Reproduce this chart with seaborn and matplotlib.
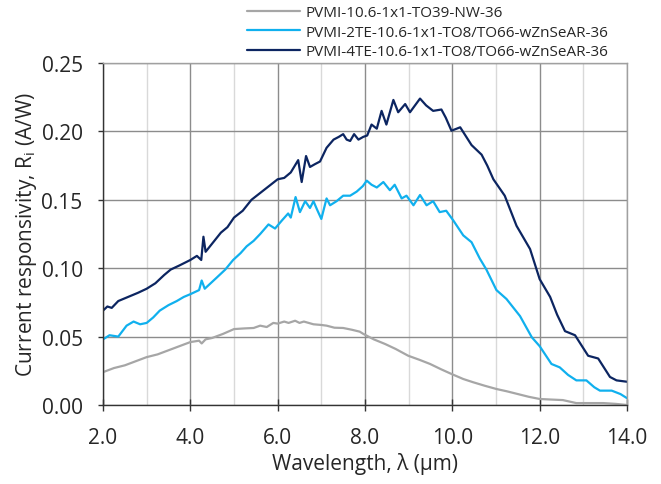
import numpy as np
import pandas as pd
import matplotlib
matplotlib.use("Agg")
import matplotlib.pyplot as plt
from matplotlib.ticker import MultipleLocator, FormatStrFormatter
import seaborn as sns

sns.set_style("white")
plt.rcParams['font.family'] = ['Open Sans', 'DejaVu Sans']
plt.rcParams['mathtext.fontset'] = 'custom'
plt.rcParams['mathtext.rm'] = 'Open Sans'
plt.rcParams['mathtext.it'] = 'Open Sans'

# --- data ---
wl_nw = [2.0, 2.25, 2.5, 2.75, 3.0, 3.25, 3.5, 3.75, 4.0, 4.2, 4.26, 4.35, 4.5, 4.75,
         5.0, 5.25, 5.45, 5.6, 5.75, 5.9, 6.0, 6.15, 6.25, 6.4, 6.5, 6.6, 6.82, 7.0,
         7.12, 7.3, 7.5, 7.7, 7.88, 7.96, 8.2, 8.46, 8.7, 8.99, 9.25, 9.49, 9.75, 9.98,
         10.25, 10.48, 10.75, 11.01, 11.25, 11.5, 11.75, 12.0, 12.25, 12.53, 12.84,
         13.2, 13.46, 13.75, 14.0]
r_nw = [0.024, 0.027, 0.029, 0.032, 0.035, 0.037, 0.040, 0.043, 0.046, 0.047, 0.045,
        0.048, 0.049, 0.052, 0.0555, 0.056, 0.0563, 0.058, 0.057, 0.060, 0.0595, 0.061,
        0.060, 0.0616, 0.060, 0.061, 0.059, 0.0585, 0.058, 0.0565, 0.0563, 0.055,
        0.0536, 0.052, 0.048, 0.0446, 0.041, 0.036, 0.033, 0.030, 0.026, 0.0227, 0.019,
        0.0166, 0.014, 0.0117, 0.010, 0.008, 0.006, 0.0044, 0.004, 0.0036, 0.0014,
        0.0014, 0.0014, 0.0008, 0.0]

wl_2te = [2.0, 2.15, 2.35, 2.54, 2.7, 2.85, 3.0, 3.15, 3.3, 3.5, 3.69, 3.85, 4.0, 4.2,
          4.26, 4.33, 4.6, 4.8, 4.98, 5.15, 5.29, 5.45, 5.6, 5.79, 5.94, 6.1, 6.24, 6.3,
          6.41, 6.51, 6.63, 6.74, 6.82, 6.9, 7.0, 7.12, 7.2, 7.35, 7.5, 7.66, 7.81, 7.95,
          8.04, 8.15, 8.27, 8.42, 8.57, 8.68, 8.84, 8.95, 9.11, 9.26, 9.41, 9.56, 9.71,
          9.86, 10.02, 10.25, 10.44, 10.63, 10.78, 11.01, 11.24, 11.55, 11.82, 12.0,
          12.27, 12.46, 12.65, 12.84, 13.07, 13.25, 13.38, 13.65, 13.85, 14.0]
r_2te = [0.048, 0.051, 0.050, 0.058, 0.061, 0.059, 0.060, 0.064, 0.069, 0.073, 0.076,
         0.079, 0.081, 0.084, 0.091, 0.085, 0.093, 0.099, 0.106, 0.111, 0.116, 0.120,
         0.125, 0.132, 0.129, 0.135, 0.140, 0.137, 0.152, 0.141, 0.149, 0.144, 0.149,
         0.143, 0.136, 0.151, 0.146, 0.149, 0.153, 0.153, 0.156, 0.160, 0.164, 0.161,
         0.159, 0.163, 0.157, 0.161, 0.151, 0.153, 0.146, 0.1535, 0.146, 0.149, 0.141,
         0.142, 0.135, 0.124, 0.119, 0.107, 0.099, 0.084, 0.0775, 0.065, 0.0495, 0.043,
         0.030, 0.0275, 0.022, 0.018, 0.018, 0.013, 0.0105, 0.0105, 0.008, 0.005]

wl_4te = [2.0, 2.1, 2.2, 2.35, 2.5, 2.65, 2.8, 3.0, 3.2, 3.4, 3.55, 3.75, 4.0, 4.15,
          4.25, 4.3, 4.35, 4.5, 4.7, 4.85, 5.0, 5.2, 5.4, 5.6, 5.8, 6.0, 6.15, 6.3,
          6.47, 6.55, 6.65, 6.74, 6.85, 6.97, 7.12, 7.28, 7.4, 7.5, 7.58, 7.66, 7.75,
          7.85, 7.96, 8.05, 8.15, 8.27, 8.38, 8.49, 8.65, 8.76, 8.92, 9.03, 9.26, 9.4,
          9.56, 9.75, 9.85, 9.98, 10.18, 10.3, 10.44, 10.67, 10.8, 10.94, 11.2, 11.47,
          11.78, 12.0, 12.24, 12.4, 12.58, 12.81, 13.11, 13.34, 13.61, 13.76, 14.0]
r_4te = [0.069, 0.072, 0.071, 0.076, 0.078, 0.080, 0.082, 0.085, 0.089, 0.095, 0.099,
         0.102, 0.106, 0.109, 0.106, 0.123, 0.112, 0.118, 0.126, 0.130, 0.137, 0.142,
         0.150, 0.155, 0.160, 0.165, 0.166, 0.170, 0.179, 0.163, 0.182, 0.174, 0.176,
         0.178, 0.188, 0.194, 0.196, 0.198, 0.194, 0.193, 0.198, 0.194, 0.196, 0.197,
         0.205, 0.202, 0.215, 0.205, 0.223, 0.214, 0.220, 0.214, 0.224, 0.219, 0.215,
         0.216, 0.210, 0.2005, 0.203, 0.197, 0.190, 0.183, 0.175, 0.165, 0.153, 0.131,
         0.114, 0.092, 0.079, 0.066, 0.054, 0.051, 0.036, 0.034, 0.0205, 0.018, 0.017]

labels = ['PVMI-10.6-1x1-TO39-NW-36',
          'PVMI-2TE-10.6-1x1-TO8/TO66-wZnSeAR-36',
          'PVMI-4TE-10.6-1x1-TO8/TO66-wZnSeAR-36']
colors = ['#a6a6a6', '#10b0ee', '#0c2561']

fig = plt.figure(figsize=(6.61, 4.85), dpi=100)
ax = fig.add_axes([103 / 661, 1 - 406 / 485, 524 / 661, 342 / 485])

for wl, r, lab, c in zip([wl_nw, wl_2te, wl_4te], [r_nw, r_2te, r_4te], labels, colors):
    sns.lineplot(x=wl, y=r, ax=ax, color=c, linewidth=1.6, label=lab)

ax.set_xlim(2, 14)
ax.set_ylim(0, 0.25)
ax.xaxis.set_major_locator(MultipleLocator(2))
ax.xaxis.set_minor_locator(MultipleLocator(1))
ax.yaxis.set_major_locator(MultipleLocator(0.05))
ax.xaxis.set_major_formatter(FormatStrFormatter('%.1f'))
ax.yaxis.set_major_formatter(FormatStrFormatter('%.2f'))

ax.grid(which='major', color='#8c8c8c', linewidth=1.0)
ax.grid(which='minor', axis='x', color='#d9d9d9', linewidth=1.0)
ax.set_axisbelow(True)

for side in ['top', 'right']:
    ax.spines[side].set_color('#a0a0a0')
    ax.spines[side].set_linewidth(1.0)
for side in ['left', 'bottom']:
    ax.spines[side].set_color('#333333')
    ax.spines[side].set_linewidth(1.0)

ax.tick_params(axis='x', which='major', direction='inout', length=8, width=1,
               color='#333333', labelsize=15, pad=11.5, bottom=True)
ax.tick_params(axis='y', which='major', direction='out', length=3.6, width=1,
               color='#333333', labelsize=15, pad=11, left=True)
ax.tick_params(which='minor', length=0)

ax.set_xlabel('Wavelength, λ (μm)', fontsize=15, labelpad=3)
ax.set_ylabel('Current responsivity, R$_\\mathrm{i}$ (A/W)', fontsize=15, labelpad=2)

ax.get_legend().remove()
handles, labs = ax.get_legend_handles_labels()
fig.legend(handles, labs, loc='upper left', bbox_to_anchor=(247 / 661, 1 - 6 / 485),
           frameon=False, fontsize=11, handlelength=3.5, handletextpad=0.33,
           labelspacing=0.31, borderpad=0, borderaxespad=0)

fig.savefig('out.png', dpi=100)
